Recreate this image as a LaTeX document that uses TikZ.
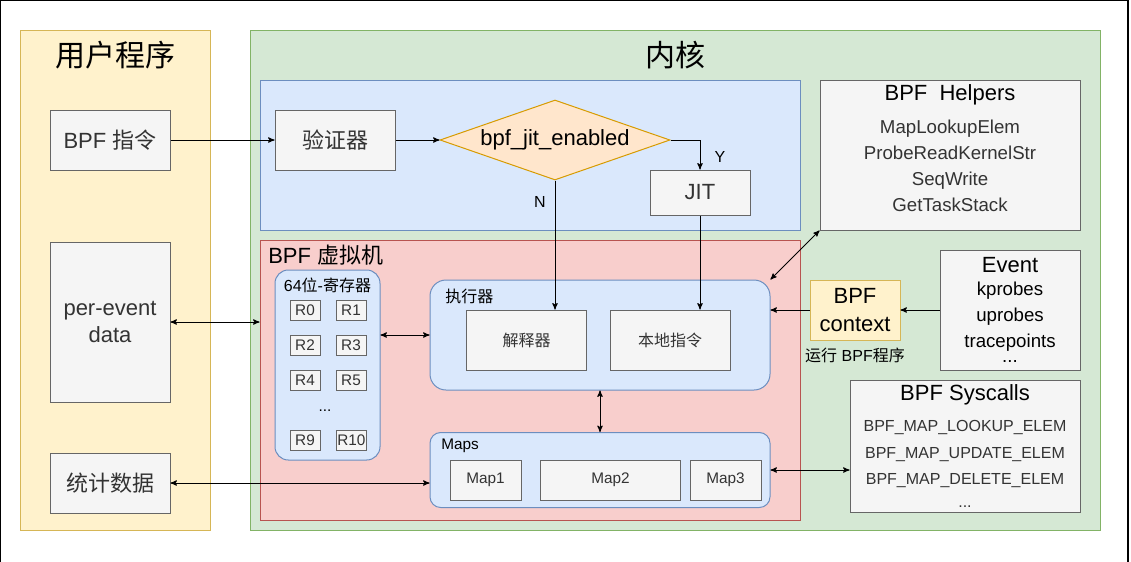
\documentclass[tikz,border=0pt]{standalone}
\usepackage{fontspec}
\setmainfont{Liberation Sans}
\newfontfamily\cjk{Noto Sans CJK SC}
\usetikzlibrary{shapes.geometric, arrows, positioning}
\definecolor{userfill}{HTML}{FFF2CC}
\definecolor{userline}{HTML}{D6B656}
\definecolor{kernfill}{HTML}{D5E8D4}
\definecolor{kernline}{HTML}{82B366}
\definecolor{bluefill}{HTML}{DAE8FC}
\definecolor{blueline}{HTML}{6C8EBF}
\definecolor{redfill}{HTML}{F8CECC}
\definecolor{redline}{HTML}{B85450}
\definecolor{greyfill}{HTML}{F5F5F5}
\definecolor{greyline}{HTML}{666666}
\definecolor{greytext}{HTML}{333333}
\definecolor{orangefill}{HTML}{FFE6CC}
\definecolor{orangeline}{HTML}{D79B00}
\newcommand{\titlefont}{\fontsize{22.5}{27}\selectfont}
\newcommand{\bigfont}{\fontsize{16.5}{20}\selectfont}
\newcommand{\midfont}{\fontsize{14}{19.5}\selectfont}
\newcommand{\smallfont}{\fontsize{12}{15}\selectfont}
\newcommand{\regfont}{\fontsize{11.5}{14}\selectfont}
\tikzset{
	panel/.style     = {draw, rectangle, line width=0.75pt, inner sep=0pt},
	userpanel/.style = {panel, draw=userline, fill=userfill},
	kernpanel/.style = {panel, draw=kernline, fill=kernfill},
	bluepanel/.style = {panel, draw=blueline, fill=bluefill},
	vmpanel/.style   = {panel, draw=redline, fill=redfill},
	groupbox/.style  = {panel, draw=blueline, fill=bluefill, rounded corners=#1},
	greybox/.style   = {draw=greyline, fill=greyfill, text=greytext, rectangle, line width=0.75pt, align=center, inner sep=1pt, font=\bigfont},
	regbox/.style    = {greybox, font=\regfont, minimum width=22.5pt, minimum height=15pt},
	mapbox/.style    = {greybox, font=\regfont, minimum height=30pt},
	decision/.style  = {draw=orangeline, fill=orangefill, diamond, aspect=2.875, line width=0.75pt, inner sep=1pt, minimum width=172.5pt, minimum height=60pt, font=\bigfont},
	ctxbox/.style    = {draw=userline, fill=userfill, rectangle, line width=0.75pt, align=center, inner sep=1pt},
	arrow/.style     = {->, >=stealth', line width=0.75pt},
	darrow/.style    = {<->, >=stealth', line width=0.75pt}
}

\begin{document}
\begin{tikzpicture}[x=0.75pt, y=-0.75pt, every node/.style={font=\smallfont}]
	\useasboundingbox (0,0) rectangle (1131,561);
	\draw[line width=1pt] (0.7,0.7) rectangle (1128,568);

	% user side
	\node (user)      [userpanel, minimum width=142.5pt, minimum height=375pt] at (115,280) {};
	\node (usertitle) [font=\titlefont] at (115,55) {\cjk 用户程序};
	\node (insn)      [greybox, minimum width=90pt, minimum height=45pt] at (110,140) {BPF {\cjk 指令}};
	\node (perevent)  [greybox, minimum width=90pt, minimum height=120pt] at (110,322) {per-event\\data};
	\node (stats)     [greybox, minimum width=90pt, minimum height=45pt] at (110,483) {\cjk 统计数据};

	% kernel side
	\node (kernel)      [kernpanel, minimum width=637.5pt, minimum height=375pt] at (675,280) {};
	\node (kerneltitle) [font=\titlefont] at (675,55) {\cjk 内核};
	\node (verifypanel) [bluepanel, minimum width=405pt, minimum height=112.5pt] at (530,155) {};
	\node (verifier)    [greybox, minimum width=90pt, minimum height=45pt] at (335,140) {\cjk 验证器};
	\node (jitcheck)    [decision] at (555,140) {bpf\_jit\_enabled};
	\node (jit)         [greybox, minimum width=75pt, minimum height=33.75pt] at (700,192.5) {JIT};

	% BPF vm
	\node (vm)      [vmpanel, minimum width=405pt, minimum height=210pt] at (530,380) {};
	\node (vmtitle) [font=\bigfont, anchor=west, inner sep=0pt] at (268,255) {BPF {\cjk 虚拟机}};
	\node (regs)    [groupbox=10pt, minimum width=78.75pt, minimum height=142.5pt] at (327.5,365) {};
	\node (regstitle) at (327.5,285) {64{\cjk 位}-{\cjk 寄存器}};
	\node (r0)  [regbox] at (305,310) {R0};
	\node (r1)  [regbox, right=11.25pt of r0] {R1};
	\node (r2)  [regbox, below=10.5pt of r0] {R2};
	\node (r3)  [regbox, right=11.25pt of r2] {R3};
	\node (r4)  [regbox, below=11pt of r2] {R4};
	\node (r5)  [regbox, right=11.25pt of r4] {R5};
	\node (regdots) [font=\regfont, inner sep=0pt] at (325,411) {...};
	\node (r9)  [regbox] at (305,440) {R9};
	\node (r10) [regbox, right=11.25pt of r9] {R10};

	\node (exec)      [groupbox=12pt, minimum width=255pt, minimum height=82.5pt] at (600,335) {};
	\node (exectitle) [anchor=west, inner sep=0pt] at (445,296) {\cjk 执行器};
	\node (interp)    [greybox, font=\smallfont, minimum width=90pt, minimum height=45pt] at (526.5,340) {\cjk 解释器};
	\node (native)    [greybox, font=\smallfont, minimum width=90pt, minimum height=45pt] at (670,340) {\cjk 本地指令};

	\node (maps)      [groupbox=8pt, minimum width=255pt, minimum height=56.25pt] at (600,470) {};
	\node (mapstitle) [font=\regfont, anchor=west, inner sep=0pt] at (441,446) {Maps};
	\node (map1)      [mapbox, minimum width=53.25pt] at (485.5,480) {Map1};
	\node (map2)      [mapbox, minimum width=105pt] at (610.5,480) {Map2};
	\node (map3)      [mapbox, minimum width=53.25pt] at (725.5,480) {Map3};

	% right column
	\node (helpers)      [greybox, minimum width=195pt, minimum height=112.5pt] at (950,155) {};
	\node (helperstitle) [font=\bigfont] at (950,95) {BPF\ \ Helpers};
	\node (helperlist)   [font=\midfont, text=greytext, align=center] at (950,166) {MapLookupElem\\ProbeReadKernelStr\\SeqWrite\\GetTaskStack};

	\node (context)     [ctxbox, font=\fontsize{16.5}{21}\selectfont, minimum width=67.5pt, minimum height=45pt] at (855,310) {BPF\\context};
	\node (contextnote) at (855,355) {{\cjk 运行} BPF{\cjk 程序}};

	\node (event)      [greybox, minimum width=105pt, minimum height=90pt] at (1010,310) {};
	\node (eventtitle) [font=\bigfont] at (1010,265) {Event};
	\node (eventlist)  [font=\midfont, align=center, inner sep=0pt] at (1010,316.5) {kprobes\\uprobes\\tracepoints};
	\node (eventdots)  [font=\midfont, inner sep=0pt] at (1010,361) {...};

	\node (syscalls)      [greybox, minimum width=172.5pt, minimum height=99pt] at (965,446) {};
	\node (syscallstitle) [font=\bigfont] at (965,395) {BPF Syscalls};
	\node (syscalllist)   [font=\fontsize{12}{19.9}\selectfont, text=greytext, align=center] at (965,464) {BPF\_MAP\_LOOKUP\_ELEM\\BPF\_MAP\_UPDATE\_ELEM\\BPF\_MAP\_DELETE\_ELEM\\[-3pt]...};

	% connectors
	\draw [arrow] (insn) -- (verifier);
	\draw [arrow] (verifier) -- (jitcheck);
	\draw [arrow] (jitcheck.east) -| (jit.north);
	\node (ylabel) at (720,157) {Y};
	\node (nlabel) at (540,202) {N};
	\draw [arrow] (jitcheck.south) -- (jitcheck.south |- interp.north);
	\draw [arrow] (jit.south) -- (jit.south |- native.north);
	\draw [darrow] (regs.east |- exec.west) -- (exec.west);
	\draw [darrow] (exec.south) -- (maps.north);
	\draw [darrow] (perevent.east) -- (perevent.east -| vm.west);
	\draw [darrow] (stats.east) -- (stats.east -| maps.west);
	\draw [darrow] (helpers.south west) -- (exec.north east);
	\draw [arrow] (event) -- (context);
	\draw [arrow] (context.west) -- (context.west -| exec.east);
	\draw [darrow] (maps.east) -- (maps.east -| syscalls.west);
\end{tikzpicture}
\end{document}
